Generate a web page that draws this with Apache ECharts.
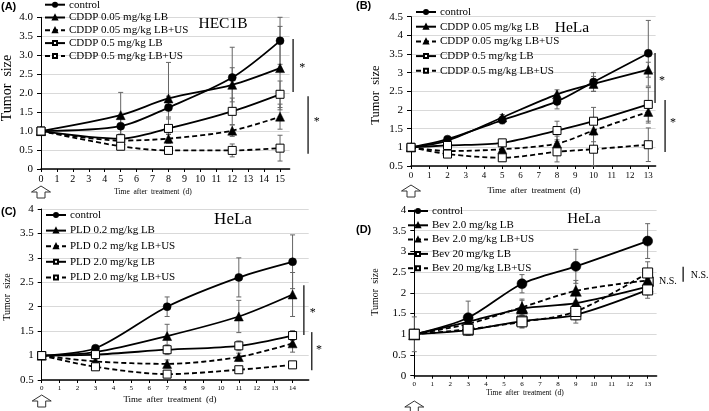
<!DOCTYPE html>
<html>
<head>
<meta charset="utf-8">
<script src="https://cdn.jsdelivr.net/npm/echarts@6/dist/echarts.min.js"></script>
<style>html,body{margin:0;padding:0;background:#fff;}#c{width:709px;height:411px;}</style>
</head>
<body>
<div id="c"></div>
<script>
// ---------- DATA ----------
const namesA = ['control','CDDP 0.05 mg/kg LB','CDDP 0.05 mg/kg LB+US','CDDP 0.5 mg/kg LB','CDDP 0.5 mg/kg LB+US'];
const daysA = [0,5,8,12,15];
const valsA = [
  [1.0,1.13,1.62,2.41,3.38],
  [1.0,1.42,1.86,2.22,2.66],
  [1.0,0.75,0.80,1.01,1.38],
  [1.0,0.80,1.07,1.52,1.97],
  [1.0,0.60,0.49,0.49,0.55]
];
const errA = [
  [0,0.25,0.30,0.80,0.62],
  [0,0.60,0.95,0.45,1.10],
  [0,0.10,0.12,0.15,0.33],
  [0,0.12,0.30,0.35,0.35],
  [0,0.05,0.10,0.17,0.34]
];

const namesB = ['control','CDDP 0.05 mg/kg LB','CDDP 0.05 mg/kg LB+US','CDDP 0.5 mg/kg LB','CDDP 0.5 mg/kg LB+US'];
const daysB = [0,2,5,8,10,13];
const valsB = [
  [1.0,1.22,1.73,2.23,2.75,3.52],
  [1.0,1.18,1.80,2.42,2.70,3.08],
  [1.0,0.90,0.95,1.10,1.45,1.95],
  [1.0,1.05,1.12,1.45,1.70,2.15],
  [1.0,0.82,0.72,0.88,0.95,1.07]
];
const errB = [
  [0,0.05,0.10,0.20,0.25,0.88],
  [0,0.05,0.08,0.12,0.20,0.20],
  [0,0.05,0.08,0.20,0.30,0.30],
  [0,0.05,0.08,0.25,0.37,0.45],
  [0,0.05,0.05,0.27,0.45,0.45]
];

const namesC = ['control','PLD 0.2 mg/kg LB','PLD 0.2 mg/kg LB+US','PLD 2.0 mg/kg LB','PLD 2.0 mg/kg LB+US'];
const daysC = [0,3,7,11,14];
const valsC = [
  [1.0,1.15,2.00,2.60,2.92],
  [1.0,1.07,1.40,1.80,2.25],
  [1.0,0.88,0.83,0.97,1.25],
  [1.0,1.02,1.12,1.20,1.41],
  [1.0,0.77,0.62,0.71,0.81]
];
const errC = [
  [0,0.05,0.20,0.40,0.55],
  [0,0.05,0.24,0.33,0.45],
  [0,0.05,0.08,0.08,0.18],
  [0,0.05,0.10,0.10,0.10],
  [0,0.04,0.05,0.05,0.05]
];

const namesD = ['control','Bev 2.0 mg/kg LB','Bev 2.0 mg/kg LB+US','Bev 20 mg/kg LB','Bev 20 mg/kg LB+US'];
const daysD = [0,3,6,9,13];
const valsD = [
  [1.0,1.40,2.22,2.64,3.25],
  [1.0,1.30,1.62,1.75,2.15],
  [1.0,1.25,1.65,2.05,2.30],
  [1.0,1.10,1.32,1.47,2.07],
  [1.0,1.12,1.30,1.55,2.48]
];
const errD = [
  [0,0.40,0.22,0.41,0.42],
  [0.42,0.15,0.20,0.20,0.20],
  [0,0.15,0.20,0.25,0.20],
  [0,0.10,0.15,0.20,0.20],
  [0,0.15,0.15,0.20,0.27]
];

const ticksA = [0,1,2,3,4,5,6,7,8,9,10,11,12,13,14,15];
const ticksB = [0,1,2,3,4,5,6,7,8,9,10,11,12,13];
const ticksC = [0,1,2,3,4,5,6,7,8,9,10,11,12,13,14];
const ticksD = [0,1,2,3,4,5,6,7,8,9,10,11,12,13];

// significance annotations: [x, y1, y2, textX, textY, text]
const sigA = [[15.82,3.43,2.03,16.4,2.66,'*'],[16.76,1.92,0.40,17.3,1.24,'*']];
const sigB = [[13.37,3.53,2.19,13.75,2.78,'*'],[13.92,2.27,0.875,14.36,1.65,'*']];
const sigC = [[14.63,2.44,1.42,15.13,1.87,'*'],[15.07,1.48,0.70,15.47,1.11,'*']];
const sigD = [[13.31,2.39,2.15,13.63,2.27,'N.S.'],[14.98,2.63,2.27,15.4,2.43,'N.S.']];

// ---------- STYLE ----------
const SERIF = '"Liberation Serif","Times New Roman",serif';
const styles = [
  {symbol:'circle', fill:'#000', dash:'solid'},
  {symbol:'triangle', fill:'#000', dash:'solid'},
  {symbol:'triangle', fill:'#000', dash:[5,3]},
  {symbol:'rect', fill:'#fff', dash:'solid'},
  {symbol:'rect', fill:'#fff', dash:[5,3]}
];

const panels = [
  {names:namesA, days:daysA, vals:valsA, errs:errA, ticks:ticksA, sig:sigA,
   grid:{left:41,top:17.3,width:248.6,height:151.7}, xmax:15.6, ymin:0, ymax:4,
   yfmt:(v)=> v===0 ? '0' : v.toFixed(1), yfs:11, xfs:10, sym:8,
   legend:{left:44,top:-1.3,gap:0.8}, title:'HEC1B', titleXY:[223,24], titleFs:15.5,
   yname:[7,88,14], xname:[153,192,7.5], label:'(A)', labelXY:[1,8], arrowY:186},
  {names:namesB, days:daysB, vals:valsB, errs:errB, ticks:ticksB, sig:sigB,
   grid:{left:411,top:16.7,width:244.6,height:149.3}, xmax:13.4, ymin:0.5, ymax:4.5,
   yfmt:null, yfs:11, xfs:9, sym:8,
   legend:{left:415,top:6,gap:2.7}, title:'HeLa', titleXY:[572,28], titleFs:15.5,
   yname:[376,95,12.5], xname:[534,191,9], label:'(B)', labelXY:[356,7], arrowY:185},
  {names:namesC, days:daysC, vals:valsC, errs:errC, ticks:ticksC, sig:sigC,
   grid:{left:41.7,top:209,width:267,height:171}, xmax:14.9, ymin:0.5, ymax:4,
   yfmt:null, yfs:11, xfs:7, sym:8,
   legend:{left:45,top:209,gap:3.6}, title:'HeLa', titleXY:[233,220], titleFs:17,
   yname:[7,297,10], xname:[170,400,9], label:'(C)', labelXY:[1,213], arrowY:395},
  {names:namesD, days:daysD, vals:valsD, errs:errD, ticks:ticksD, sig:sigD,
   grid:{left:414.3,top:210,width:242.3,height:165.7}, xmax:13.5, ymin:0, ymax:4,
   yfmt:null, yfs:11, xfs:7, sym:10,
   legend:{left:407,top:205,gap:2.3}, title:'HeLa', titleXY:[584,219], titleFs:15,
   yname:[375,292,10], xname:[525,393,7.5], label:'(D)', labelXY:[356,231], arrowY:401}
];

// ---------- BUILD ----------
const grids=[], xAxes=[], yAxes=[], series=[], legends=[];
panels.forEach((p,pi)=>{
  grids.push(Object.assign({containLabel:false}, p.grid));
  xAxes.push({
    type:'value', gridIndex:pi, min:0, max:p.xmax, interval:1,
    axisLine:{show:true, lineStyle:{color:'#000', width:1.5}},
    axisTick:{show:true, length:3, lineStyle:{color:'#000'}, customValues:p.ticks},
    axisLabel:{color:'#000', fontFamily:SERIF, fontSize:p.xfs, margin:5, customValues:p.ticks},
    splitLine:{show:false}
  });
  const ylab = {color:'#000', fontFamily:SERIF, fontSize:p.yfs, margin:8};
  if (p.yfmt) ylab.formatter = p.yfmt;
  yAxes.push({
    type:'value', gridIndex:pi, min:p.ymin, max:p.ymax, interval:0.5,
    axisLine:{show:true, lineStyle:{color:'#000', width:1}},
    axisTick:{show:true, length:4, lineStyle:{color:'#000'}},
    axisLabel:ylab,
    splitLine:{show:true, lineStyle:{color:'#d9d9d9', width:1}}
  });
  // error bars
  p.names.forEach((n,si)=>{
    const d=[];
    p.days.forEach((x,k)=>{ const e=p.errs[si][k]; if(e>0) d.push([x, p.vals[si][k]-e, p.vals[si][k]+e]); });
    series.push({
      type:'custom', name:'err'+pi+'_'+si, xAxisIndex:pi, yAxisIndex:pi, z:1, silent:true,
      data:d, encode:{x:0, y:[1,2]},
      renderItem:(params, api)=>{
        const x=api.value(0), lo=api.value(1), hi=api.value(2);
        const a=api.coord([x,hi]), b=api.coord([x,lo]);
        const st={stroke:'#666', lineWidth:1};
        return {type:'group', children:[
          {type:'line', shape:{x1:a[0],y1:a[1],x2:b[0],y2:b[1]}, style:st},
          {type:'line', shape:{x1:a[0]-2.5,y1:a[1],x2:a[0]+2.5,y2:a[1]}, style:st},
          {type:'line', shape:{x1:b[0]-2.5,y1:b[1],x2:b[0]+2.5,y2:b[1]}, style:st}
        ]};
      }
    });
  });
  // lines
  p.names.forEach((n,si)=>{
    const s=styles[si];
    series.push({
      type:'line', name:n, xAxisIndex:pi, yAxisIndex:pi, z:3,
      data:p.days.map((x,k)=>[x,p.vals[si][k]]),
      smooth:0.3, symbol:s.symbol, symbolSize:(s.symbol==='triangle'? p.sym+1 : p.sym),
      showAllSymbol:true, animation:false,
      lineStyle:{color:'#000', width:1.8, type:s.dash},
      itemStyle:{color:s.fill, borderColor:'#000', borderWidth: s.fill==='#fff'?1:0.5}
    });
  });
  legends.push({
    orient:'vertical', left:p.legend.left, top:p.legend.top, padding:0,
    itemWidth:20, itemHeight:5, itemGap:p.legend.gap, selectedMode:false,
    data:p.names.map(n=>({name:n})),
    textStyle:{color:'#000', fontFamily:SERIF, fontSize:11, lineHeight:12, padding:[0,0,0,-1]}
  });
});

const chart = echarts.init(document.getElementById('c'), null, {renderer:'canvas'});
chart.setOption({
  animation:false,
  backgroundColor:'#fff',
  grid:grids, xAxis:xAxes, yAxis:yAxes, legend:legends, series:series
});

// ---------- ANNOTATIONS ----------
const g=[];
panels.forEach((p,pi)=>{
  g.push({type:'text', left:p.labelXY[0], top:p.labelXY[1]-7, style:{text:p.label, font:'bold 11px "Liberation Sans",Arial,sans-serif', fill:'#000'}});
  g.push({type:'text', x:p.titleXY[0], y:p.titleXY[1], style:{text:p.title, font:p.titleFs+'px '+SERIF, fill:'#000', textAlign:'center', textVerticalAlign:'middle'}});
  g.push({type:'text', x:p.xname[0], y:p.xname[1], style:{text:'Time  after  treatment  (d)', font:p.xname[2]+'px '+SERIF, fill:'#000', textAlign:'center', textVerticalAlign:'middle'}});
  g.push({type:'text', x:p.yname[0], y:p.yname[1], rotation:Math.PI/2, style:{text:'Tumor  size', font:p.yname[2]+'px '+SERIF, fill:'#000', textAlign:'center', textVerticalAlign:'middle'}});
  // hollow arrow at day 0
  const ax = chart.convertToPixel({xAxisIndex:pi}, 0);
  const ty = p.arrowY;
  g.push({type:'polygon', shape:{points:[[ax,ty],[ax+9.5,ty+6],[ax+4,ty+6],[ax+4,ty+12],[ax-4,ty+12],[ax-4,ty+6],[ax-9.5,ty+6]]},
          style:{fill:'#fff', stroke:'#333', lineWidth:1}});
  // significance marks
  p.sig.forEach(s=>{
    const a = chart.convertToPixel({gridIndex:pi},[s[0],s[1]]);
    const b = chart.convertToPixel({gridIndex:pi},[s[0],s[2]]);
    const t = chart.convertToPixel({gridIndex:pi},[s[3],s[4]]);
    g.push({type:'line', shape:{x1:a[0],y1:a[1],x2:b[0],y2:b[1]}, style:{stroke:'#333', lineWidth:1.5}});
    if (s[5]==='*') {
      g.push({type:'text', x:t[0], y:t[1], style:{text:'*', font:'12px '+SERIF, fill:'#000', textAlign:'center', textVerticalAlign:'middle'}});
    } else {
      g.push({type:'text', x:t[0], y:t[1], style:{text:s[5], font:'10px '+SERIF, fill:'#000', textAlign:'left', textVerticalAlign:'middle'}});
    }
  });
});
chart.setOption({graphic:g});
</script>
</body>
</html>
